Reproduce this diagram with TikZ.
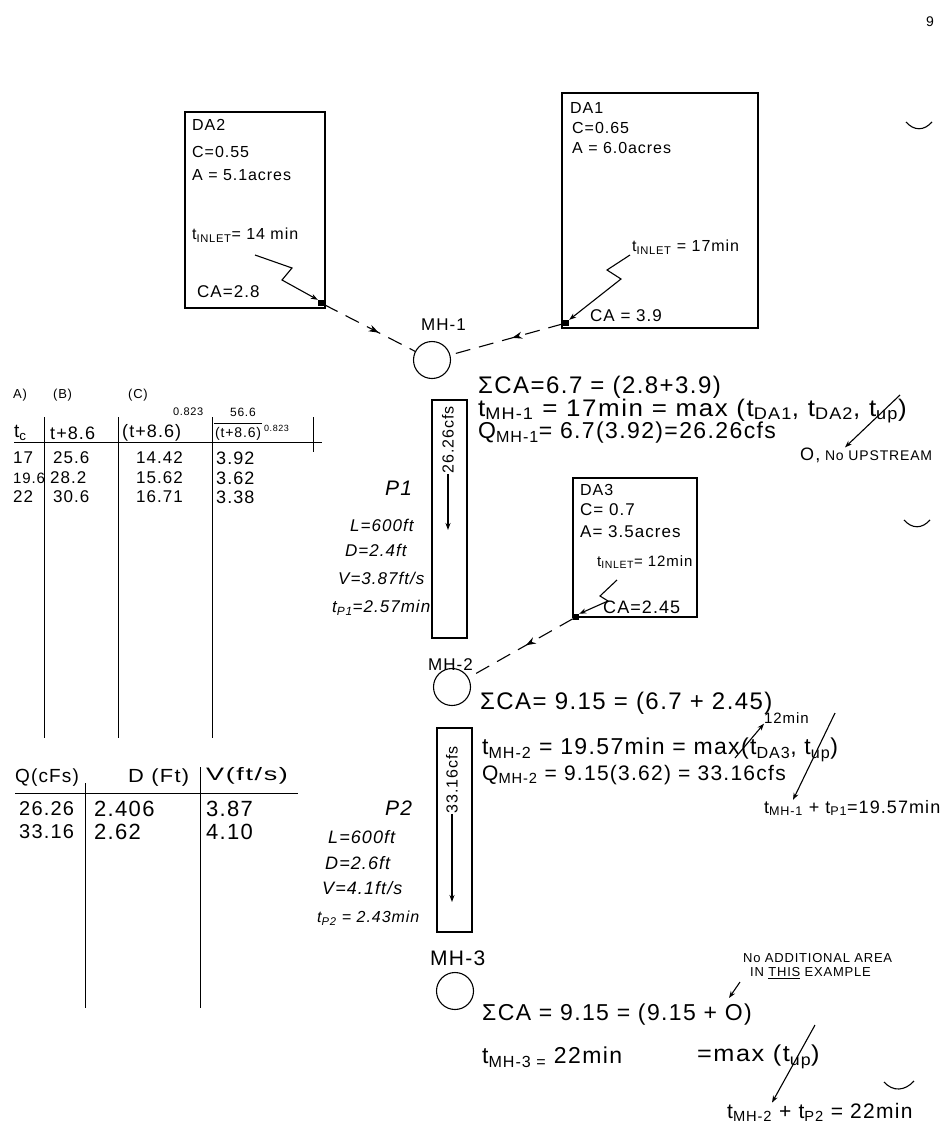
\documentclass[tikz,border=0pt]{standalone}
\usepackage{fontspec}
\setmainfont{Liberation Sans}[LetterSpace=6]
\usetikzlibrary{arrows.meta,decorations.markings}
\newcommand\sbs[1]{\textsubscript{#1}}
\newcommand\hs[2]{\scalebox{#1}[1]{#2}}
\begin{document}
\begin{tikzpicture}[x=1pt,y=-1pt,
  ink/.style={line width=1.1pt,draw=black},
  fs/.style={font=\fontsize{#1}{#1}\selectfont},
  txt/.style={anchor=west,inner sep=0pt,fs=#1},
  itxt/.style={anchor=west,inner sep=0pt,font=\fontsize{#1}{#1}\selectfont\itshape},
  areabox/.style={ink,rectangle,inner sep=0pt},
  outlet/.style={fill=black,inner sep=0pt,minimum size=6pt},
  mh/.style={ink,circle,inner sep=0pt,minimum size=37pt},
  pipe/.style={ink,rectangle,inner sep=0pt,minimum width=35pt},
  tip/.style={-{Stealth[length=7pt,width=5pt]}},
  flow/.style={ink,dash pattern=on 15pt off 9pt,postaction={decorate},
    decoration={markings,mark=at position #1 with {\arrow{Stealth[length=10pt,width=7pt]}}}},
  rule/.style={line width=1pt,draw=black},
]
\useasboundingbox (0,0) rectangle (951,1130);

% page number and binder marks
\node[txt=14] (pg) at (926,22) {9};
\draw[ink] (906,122) .. controls (914,131) and (924,131) .. (932,122);
\draw[ink] (904,520) .. controls (912,529) and (922,529) .. (930,520);
\draw[ink] (884,1082) .. controls (893,1092) and (905,1091) .. (914,1081);

% drainage areas
\node[areabox,minimum width=140pt,minimum height=196pt] (da2) at (255,210) {};
\node[areabox,minimum width=196pt,minimum height=235pt] (da1) at (660,210.5) {};
\node[areabox,minimum width=124pt,minimum height=139pt] (da3) at (635,547.5) {};

\node[txt=16] (da2n) at (192,125) {DA2};
\node[txt=16] (da2c) at (192,152) {C=0.55};
\node[txt=16] (da2a) at (192,175) {A = 5.1acres};
\node[txt=16] (da2t) at (192,235) {t\sbs{INLET}= 14 min};
\node[txt=17] (da2ca) at (197,292) {CA=2.8};

\node[txt=16] (da1n) at (570,108) {DA1};
\node[txt=16] (da1c) at (572,128) {C=0.65};
\node[txt=16] (da1a) at (572,148) {A = 6.0acres};
\node[txt=16] (da1t) at (632,247) {t\sbs{INLET} = 17min};
\node[txt=17] (da1ca) at (590,316) {CA = 3.9};

\node[txt=16] (da3n) at (580,490) {DA3};
\node[txt=17] (da3c) at (580,510) {C=\,\,0.7};
\node[txt=17] (da3a) at (580,532) {A= 3.5acres};
\node[txt=15] (da3t) at (597,562) {t\sbs{INLET}= 12min};
\node[txt=18] (da3ca) at (603,607) {CA=2.45};

% outlets
\node[outlet] (sq2) at (321,303) {};
\node[outlet] (sq1) at (566,323) {};
\node[outlet] (sq3) at (576,617) {};

% inlet-time arrows
\coordinate (z2) at (255,255);
\draw[ink,tip] (z2) -- (292,268) -- (282,280) -- (sq2.north west);
\coordinate (z1) at (630,255);
\draw[ink,tip] (z1) -- (607,270) -- (621,279) -- (sq1.north east);
\coordinate (z3) at (617,580);
\draw[ink,tip] (z3) -- (600,596) -- (608,601) -- (sq3.north east);

% manholes
\node[mh] (mh1) at (432,360) {};
\node[mh] (mh2) at (452,687) {};
\node[mh] (mh3) at (455,991) {};
\node[txt=17] (mh1l) at (421,325) {MH-1};
\node[txt=17] (mh2l) at (428,665) {MH-2};
\node[txt=21] (mh3l) at (430,958) {MH-3};

% flows to manholes
\draw[flow=0.6] (sq2) -- (mh1);
\draw[flow=0.45] (sq1) -- (mh1);
\draw[flow=0.45] (sq3) -- (mh2);

% pipes
\node[pipe,minimum height=238pt] (p1) at (449.5,519) {};
\node[pipe,minimum height=204pt] (p2) at (454.5,830) {};
\node[rotate=90,inner sep=0pt,fs=16] (p1q) at (448,440) {26.26cfs};
\coordinate (p1e) at (448,530);
\draw[ink,tip] (p1q.west) -- (p1e);
\node[rotate=90,inner sep=0pt,fs=16] (p2q) at (452,780) {33.16cfs};
\coordinate (p2e) at (452,902);
\draw[ink,tip] (p2q.west) -- (p2e);

% pipe data
\node[itxt=21] (p1n) at (385,488) {P1};
\node[itxt=17] (p1l) at (350,525) {L=600ft};
\node[itxt=17] (p1d) at (345,550) {D=2.4ft};
\node[itxt=17] (p1v) at (338,578) {V=3.87ft/s};
\node[itxt=17] (p1t) at (332,608) {t\sbs{P1}=2.57min};

\node[itxt=21] (p2n) at (385,808) {P2};
\node[itxt=18] (p2l) at (328,837) {L=600ft};
\node[itxt=18] (p2d) at (325,863) {D=2.6ft};
\node[itxt=18] (p2v) at (322,888) {V=4.1ft/s};
\node[itxt=16] (p2t) at (317,918) {t\sbs{P2} = 2.43min};

% MH-1 computations
\node[txt=24] (s1) at (478,387) {ΣCA=6.7 = (2.8+3.9)};
\node[txt=24] (t1) at (478,411) {\hs{1.08}{t\sbs{MH-1} = 17min = max (t\sbs{DA1}, t\sbs{DA2}, t\sbs{up})}};
\node[txt=23] (q1) at (478,433) {Q\sbs{MH-1}= 6.7(3.92)=26.26cfs};
\node[txt=14] (nu) at (800,455) {{\fontsize{18}{18}\selectfont O,} No UPSTREAM};
\coordinate (u1) at (900,395);
\draw[ink,tip] (u1) -- (nu.north west -| 845,446);

% MH-2 computations
\node[txt=24] (s2) at (480,703) {ΣCA= 9.15 = (6.7 + 2.45)};
\node[txt=23] (t2) at (482,750) {t\sbs{MH-2} = 19.57min = max(t\sbs{DA3}, t\sbs{up})};
\node[txt=21] (q2) at (482,775) {Q\sbs{MH-2} = 9.15(3.62) = 33.16cfs};
\node[txt=15] (tw) at (764,718) {12min};
\coordinate (c12) at (735,758);
\draw[ink,tip] (c12) -- (tw.south west);
\node[txt=18] (tsum2) at (764,808) {t\sbs{MH-1} + t\sbs{P1}=19.57min};
\coordinate (u2) at (835,713);
\draw[ink,tip] (u2) -- (tsum2.north west -| 793,792);

% MH-3 computations
\node[txt=23] (s3) at (482,1015) {ΣCA = 9.15 = (9.15 + O)};
\node[txt=23] (t3) at (482,1057) {t\sbs{MH-3 =} 22min};
\node[txt=23] (m3) at (697,1057) {\hs{1.1}{=max (t\sbs{up})}};
\node[txt=21] (tsum3) at (727,1112) {t\sbs{MH-2} + t\sbs{P2} = 22min};
\coordinate (u3) at (815,1025);
\draw[ink,tip] (u3) -- (tsum3.north west -| 772,1094);
\node[txt=13] (na1) at (743,958) {No ADDITIONAL AREA};
\node[txt=13] (na2) at (750,973) {IN \underline{THIS} EXAMPLE};
\coordinate (na3) at (740,982);
\coordinate (na4) at (729,998);
\draw[ink,tip] (na3) -- (na4);

% upper table
\draw[rule] (14,442) -- (322,442);
\foreach \xx in {44,118,212} \draw[rule] (\xx,417) -- (\xx,738);
\draw[rule] (313,417) -- (313,452);
\node[txt=13] (ha) at (13,395) {A)};
\node[txt=13] (hb) at (53,395) {(B)};
\node[txt=13] (hc) at (128,395) {(C)};
\node[txt=11] (hcx) at (173,412) {0.823};
\node[txt=12] (hdn) at (230,412) {56.6};
\node[txt=19] (h1) at (14,433) {t\sbs{c}};
\node[txt=18] (h2) at (50,433) {t+8.6};
\node[txt=18] (h3) at (122,433) {(t+8.6)};
\node[txt=14] (h4) at (215,434) {(t+8.6)};
\node[txt=9] (h4x) at (264,428) {0.823};
\draw[rule] (214,423) -- (262,423);
\node[txt=17] (r11) at (13,458) {17};
\node[txt=17] (r12) at (53,458) {25.6};
\node[txt=17] (r13) at (136,458) {14.42};
\node[txt=18] (r14) at (216,458) {3.92};
\node[txt=15] (r21) at (13,478) {19.6};
\node[txt=17] (r22) at (50,478) {28.2};
\node[txt=17] (r23) at (136,478) {15.62};
\node[txt=18] (r24) at (216,478) {3.62};
\node[txt=17] (r31) at (13,497) {22};
\node[txt=17] (r32) at (53,497) {30.6};
\node[txt=17] (r33) at (136,497) {16.71};
\node[txt=18] (r34) at (216,497) {3.38};

% lower table
\draw[rule] (15,793) -- (298,793);
\draw[rule] (85,783) -- (85,1008);
\draw[rule] (200,767) -- (200,1008);
\node[txt=19] (lq) at (15,778) {Q(cFs)};
\node[txt=19] (ld) at (128,778) {\hs{1.15}{D (Ft)}};
\node[txt=18] (lv) at (206,776) {\hs{1.5}{V(ft/s)}};
\node[txt=20] (l11) at (19,809) {26.26};
\node[txt=22] (l12) at (94,809) {2.406};
\node[txt=22] (l13) at (206,809) {3.87};
\node[txt=20] (l21) at (19,832) {33.16};
\node[txt=22] (l22) at (94,832) {2.62};
\node[txt=22] (l23) at (206,832) {4.10};
\end{tikzpicture}
\end{document}
